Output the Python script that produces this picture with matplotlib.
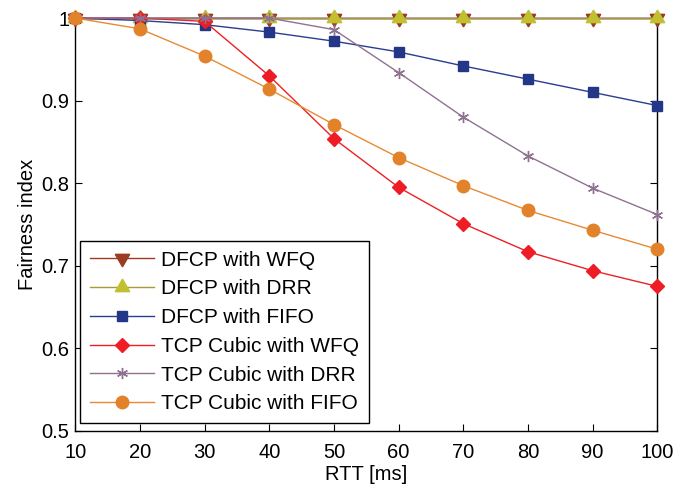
import matplotlib
matplotlib.use("Agg")
import matplotlib.pyplot as plt

plt.rcParams['font.family'] = ['Liberation Sans', 'DejaVu Sans']

rtt = [10, 20, 30, 40, 50, 60, 70, 80, 90, 100]
dfcp_wfq = [1, 1, 1, 1, 1, 1, 1, 1, 1, 1]
dfcp_drr = [1, 1, 1, 1, 1, 1, 1, 1, 1, 1]
dfcp_fifo = [1, 0.997, 0.992, 0.983, 0.972, 0.959, 0.942, 0.926, 0.910, 0.894]
cubic_wfq = [1, 1, 0.996, 0.930, 0.854, 0.795, 0.751, 0.717, 0.694, 0.675]
cubic_drr = [1, 1, 1, 1, 0.986, 0.934, 0.880, 0.833, 0.794, 0.762]
cubic_fifo = [1, 0.987, 0.954, 0.914, 0.871, 0.831, 0.797, 0.767, 0.743, 0.720]

xticks = [10, 20, 30, 40, 50, 60, 70, 80, 90, 100]
yticks = [0.5, 0.6, 0.7, 0.8, 0.9, 1.0]
ytick_labels = ['0.5', '0.6', '0.7', '0.8', '0.9', '1']

fig = plt.figure(figsize=(6.77, 4.88), dpi=100)
ax = fig.add_axes([0.111, 0.117, 0.860, 0.846])

# (values, label, marker, line colour, marker colour, marker size)
series = [
    (dfcp_wfq, 'DFCP with WFQ', (3, 0, 180), '#9a3b22', '#9a3b22', 12),
    (dfcp_drr, 'DFCP with DRR', (3, 0, 0), '#a89a3a', '#c0c030', 12),
    (dfcp_fifo, 'DFCP with FIFO', 's', '#2a3d8f', '#233688', 7),
    (cubic_wfq, 'TCP Cubic with WFQ', 'D', '#ee2024', '#ee1c24', 7),
    (cubic_drr, 'TCP Cubic with DRR', (6, 2, 0), '#8e7290', '#8e7290', 8),
    (cubic_fifo, 'TCP Cubic with FIFO', 'o', '#e88a35', '#e2822a', 9),
]
for vals, label, mk, lc, mc, ms in series:
    ax.plot(rtt, vals, color=lc, lw=1.0, marker=mk, ms=ms,
            markeredgecolor=mc, markerfacecolor=mc, mew=1.0,
            label=label, clip_on=False, zorder=3)

ax.set_xlim(10, 100)
ax.set_ylim(0.5, 1.0)
ax.set_xticks(xticks)
ax.set_yticks(yticks)
ax.set_yticklabels(ytick_labels)
ax.tick_params(direction='in', top=True, right=True, labelsize=14.5,
               length=5)
ax.tick_params(axis='x', pad=9)
ax.tick_params(axis='y', pad=4)
for sp in ax.spines.values():
    sp.set_linewidth(1.0)
ax.set_xlabel('RTT [ms]', fontsize=14.5, labelpad=2)
ax.set_ylabel('Fairness index', fontsize=14.5, labelpad=3)

leg = ax.legend(loc='lower left', bbox_to_anchor=(0.0086, 0.019),
                borderaxespad=0, fontsize=15, frameon=True, fancybox=False,
                edgecolor='black', framealpha=1, borderpad=0.46,
                labelspacing=0.47, handlelength=3.1, handletextpad=0.34)
leg.get_frame().set_linewidth(1.0)
leg.set_zorder(4)

fig.savefig('out.png', dpi=100)
